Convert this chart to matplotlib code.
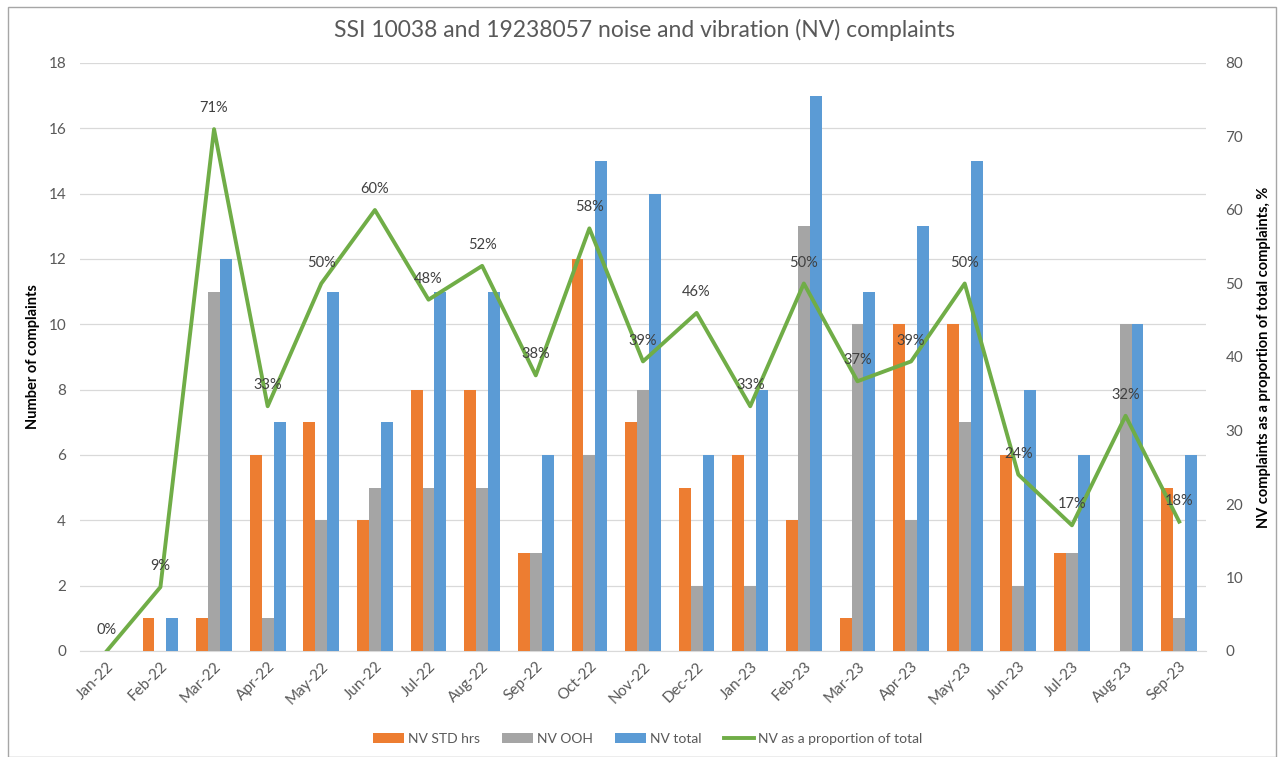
import matplotlib
matplotlib.use("Agg")
import matplotlib.pyplot as plt
import numpy as np
from matplotlib.patches import Rectangle

months = ["Jan-22", "Feb-22", "Mar-22", "Apr-22", "May-22", "Jun-22", "Jul-22",
          "Aug-22", "Sep-22", "Oct-22", "Nov-22", "Dec-22", "Jan-23", "Feb-23",
          "Mar-23", "Apr-23", "May-23", "Jun-23", "Jul-23", "Aug-23", "Sep-23"]
nv_std = [0, 1, 1, 6, 7, 4, 8, 8, 3, 12, 7, 5, 6, 4, 1, 10, 10, 6, 3, 0, 5]
nv_ooh = [0, 0, 11, 1, 4, 5, 5, 5, 3, 6, 8, 2, 2, 13, 10, 4, 7, 2, 3, 10, 1]
nv_total = [0, 1, 12, 7, 11, 7, 11, 11, 6, 15, 14, 6, 8, 17, 11, 13, 15, 8, 6, 10, 6]
nv_prop = [0, 8.7, 71, 33.3, 50, 60, 47.8, 52.4, 37.5, 57.5, 39.4, 46, 33.3, 50,
           36.7, 39.4, 50, 24, 17.1, 32, 17.6]

plt.rcParams['font.family'] = ['Lato', 'DejaVu Sans']

W, H = 1284, 757
fig = plt.figure(figsize=(W / 100, H / 100), dpi=100)
ax = fig.add_axes([80 / W, 1 - 651 / H, (1206 - 80) / W, (651 - 63) / H])
ax2 = ax.twinx()

x = np.arange(len(months))
bw = 0.222
c_std, c_ooh, c_tot, c_line = "#ED7D31", "#A5A5A5", "#5B9BD5", "#70AD47"
ax.bar(x - bw, nv_std, bw, color=c_std, label="NV STD hrs", zorder=3)
ax.bar(x, nv_ooh, bw, color=c_ooh, label="NV OOH", zorder=3)
ax.bar(x + bw, nv_total, bw, color=c_tot, label="NV total", zorder=3)

ax.set_xlim(-0.5, len(months) - 0.5)
ax.set_ylim(0, 18)
ax.set_yticks(np.arange(0, 19, 2))
ax.grid(axis='y', color="#D9D9D9", linewidth=0.9, zorder=0)
ax.set_axisbelow(True)
for s in ax.spines.values():
    s.set_visible(False)
for s in ax2.spines.values():
    s.set_visible(False)
ax.spines['bottom'].set_visible(True)
ax.spines['bottom'].set_color("#D9D9D9")

ax.set_xticks(x)
ax.set_xticklabels(months, rotation=45, ha='right', rotation_mode='anchor')
ax.tick_params(axis='x', length=0, labelsize=11, labelcolor="#595959", pad=6)
ax.tick_params(axis='y', length=0, labelsize=11, labelcolor="#595959", pad=10)
ax.set_ylabel("Number of complaints", fontsize=10.5, fontweight='bold', labelpad=6)

ax2.plot(x, nv_prop, color=c_line, linewidth=2.8, label="NV as a proportion of total", zorder=4)
ax2.set_ylim(0, 80)
ax2.set_yticks(np.arange(0, 81, 10))
ax2.tick_params(axis='y', length=0, labelsize=11, labelcolor="#595959", pad=14)
ax2.set_ylabel("NV complaints as a proportion of total complaints, %", fontsize=10.5,
               fontweight='bold', labelpad=10)
for xi, v in zip(x, nv_prop):
    ax2.annotate(f"{v:.0f}%", (xi, v), xytext=(0, 10), textcoords='offset points',
                 ha='center', va='bottom', fontsize=10.5, color="#404040", zorder=5)

h1, l1 = ax.get_legend_handles_labels()
h2, l2 = ax2.get_legend_handles_labels()
fig.legend(h1 + h2, l1 + l2, loc='center', bbox_to_anchor=(648 / W, 1 - 739 / H),
           ncol=4, frameon=False, fontsize=10, handlelength=2.2, handleheight=0.7,
           columnspacing=1.6, handletextpad=0.3, labelcolor="#595959")

fig.suptitle("SSI 10038 and 19238057 noise and vibration (NV) complaints",
             x=645 / W, y=1 - 30 / H, va='center', fontsize=16.5, color="#595959")

fig.patches.append(Rectangle((8 / W, 0.5 / H), (1276 - 8) / W, (750 - 0.5) / H,
                             transform=fig.transFigure, fill=False,
                             edgecolor="#A6A6A6", linewidth=1))

fig.savefig("out.png", dpi=100)
